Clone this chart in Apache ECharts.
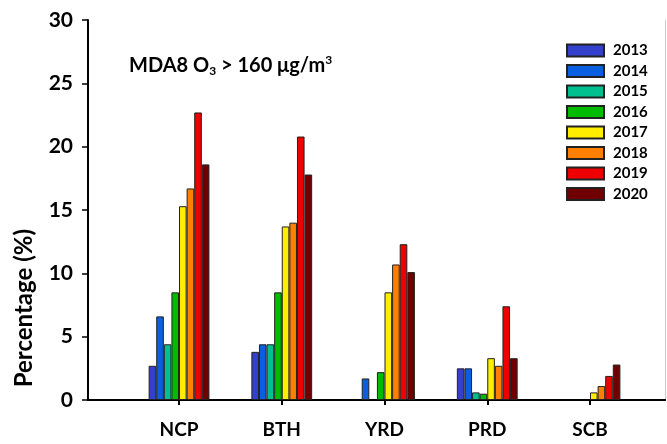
<!DOCTYPE html>
<html><head><meta charset="utf-8">
<script src="https://cdn.jsdelivr.net/npm/echarts@6/dist/echarts.min.js"></script>
<style>html,body{margin:0;padding:0;background:#fff}#c{width:667px;height:444px}</style>
</head><body><div id="c"></div>
<script>
const regions = ['NCP', 'BTH', 'YRD', 'PRD', 'SCB'];
const regionPos = [1, 2, 3, 4, 5];
const years = ['2013', '2014', '2015', '2016', '2017', '2018', '2019', '2020'];
const colors = ['#3340cc', '#0a5fe0', '#00c090', '#00bb00', '#ffee00', '#ff7f00', '#ee0000', '#700000'];
// values per year, ordered as regions: NCP, BTH, YRD, PRD, SCB (null = no bar)
const v2013 = [2.7, 3.8, null, 2.5, null];
const v2014 = [6.6, 4.4, 1.7, 2.5, null];
const v2015 = [4.4, 4.4, null, 0.6, null];
const v2016 = [8.5, 8.5, 2.2, 0.5, null];
const v2017 = [15.3, 13.7, 8.5, 3.3, 0.6];
const v2018 = [16.7, 14.0, 10.7, 2.7, 1.1];
const v2019 = [22.7, 20.8, 12.3, 7.4, 1.9];
const v2020 = [18.6, 17.8, 10.1, 3.3, 2.8];
const yearValues = [v2013, v2014, v2015, v2016, v2017, v2018, v2019, v2020];
const yTicks = [0, 5, 10, 15, 20, 25, 30];

const font = 'Lato, "Open Sans", sans-serif';
const chart = echarts.init(document.getElementById('c'));
const series = years.map((y, i) => ({
  name: y,
  type: 'bar',
  barWidth: 7.6,
  barGap: '0%',
  itemStyle: { color: colors[i], borderColor: '#222', borderWidth: 1 },
  data: regionPos.map((p, j) => [p, yearValues[i][j]])
}));
chart.setOption({
  animation: false,
  title: {
    text: 'MDA8 O{sub|3} > 160 μg/m{sup|3}',
    left: 124, top: 49,
    textStyle: {
      fontFamily: font, fontSize: 20, fontWeight: 'bold', color: '#000',
      rich: {
        sub: { fontFamily: font, fontSize: 12, fontWeight: 'bold', color: '#000', verticalAlign: 'bottom', padding: [11, 0, 0, 0] },
        sup: { fontFamily: font, fontSize: 12, fontWeight: 'bold', color: '#000', verticalAlign: 'top', padding: [0, 0, 11, 0] }
      }
    }
  },
  legend: {
    orient: 'vertical', left: 561, top: 38,
    itemWidth: 37, itemHeight: 12, itemGap: 5.5,
    icon: 'rect',
    textStyle: { fontFamily: font, fontSize: 15, fontWeight: 'bold', color: '#000', padding: [0, 0, 0, 4] },
    data: years
  },
  graphic: [{
    type: 'text', left: 12, top: 229, rotation: Math.PI / 2,
    style: { text: 'Percentage (%)', fontFamily: font, fontSize: 24, fontWeight: 'bold', fill: '#000' }
  }],
  grid: { left: 88, right: 2, top: 20, bottom: 44 },
  xAxis: [{
    type: 'value', min: 0.114, max: 5.73,
    splitLine: { show: false },
    axisLine: { show: true, lineStyle: { color: '#000', width: 2 } },
    axisTick: { show: true, length: 5, lineStyle: { color: '#000', width: 2 }, customValues: regionPos },
    axisLabel: {
      customValues: regionPos, margin: 20,
      formatter: v => regions[regionPos.indexOf(Math.round(v))] || '',
      fontFamily: font, fontSize: 19, fontWeight: 'bold', color: '#000'
    }
  }, {
    type: 'value', position: 'top', min: 0.114, max: 5.73,
    splitLine: { show: false }, axisTick: { show: false }, axisLabel: { show: false },
    axisLine: { show: true, lineStyle: { color: '#000', width: 2 } }
  }],
  yAxis: [{
    type: 'value', min: 0, max: 30, interval: 5,
    splitLine: { show: false },
    axisLine: { show: true, lineStyle: { color: '#000', width: 2 } },
    axisTick: { show: true, length: 6, lineStyle: { color: '#000', width: 1.5 } },
    axisLabel: {
      margin: 15, fontFamily: font, fontSize: 21, fontWeight: 'bold', color: '#000',
      formatter: v => yTicks.includes(v) ? String(v) : ''
    }
  }, {
    type: 'value', position: 'right', min: 0, max: 30,
    splitLine: { show: false }, axisTick: { show: false }, axisLabel: { show: false },
    axisLine: { show: true, lineStyle: { color: '#ccc', width: 1 } }
  }],
  series: series
});
</script></body></html>
